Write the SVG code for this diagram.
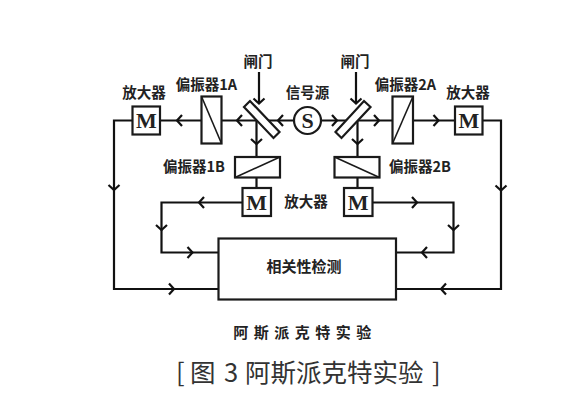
<svg xmlns="http://www.w3.org/2000/svg" width="564" height="416" viewBox="0 0 564 416">
<style>
.s{fill:#fff;stroke:#1a1a1a;stroke-width:2.2}
.d{stroke:#1a1a1a;stroke-width:1.6;fill:none}
.c{fill:none;stroke:#111;stroke-width:2.2}
.a{fill:none;stroke:#111;stroke-width:2.2}
.t{font-family:"Noto Sans CJK SC","Liberation Sans",sans-serif;font-weight:700;font-size:14.5px;fill:#222;text-anchor:middle}
.m{font-family:"Liberation Serif",serif;font-weight:700;font-size:22px;fill:#222;text-anchor:middle}
</style>
<defs>
<path id="ar" class="a" d="M-5-5.5L0 0L-5 5.5"/>
</defs>
<rect width="564" height="416" fill="#fff"/>
<g id="connectors">
<path class="c" d="M132 120.500H114V289H218.500"/>
<path class="c" d="M482.500 120.500H501V289H396"/>
<path class="c" d="M160 120.500H201M221.500 120.500H293.500M321 120.500H392.500M413 120.500H455"/>
<path class="c" d="M242.500 202.500H161.500V252.500H218.500"/>
<path class="c" d="M372 202.500H453.500V252.500H396"/>
<path class="c" d="M256.500 120.500V157M256.500 177V188M357.500 120.500V157M357.500 177V188"/>
<path class="c" d="M259 72V103M356 72V103"/>
<use href="#ar" transform="translate(259 103.500) rotate(90)"/>
<use href="#ar" transform="translate(356 103.500) rotate(90)"/>
<use href="#ar" transform="translate(177 120.500) rotate(180)"/>
<use href="#ar" transform="translate(237 120.500) rotate(180)"/>
<use href="#ar" transform="translate(278 120.500) rotate(180)"/>
<use href="#ar" transform="translate(337 120.500)"/>
<use href="#ar" transform="translate(379 120.500)"/>
<use href="#ar" transform="translate(438.500 120.500)"/>
<use href="#ar" transform="translate(256.500 144) rotate(90)"/>
<use href="#ar" transform="translate(357.500 144) rotate(90)"/>
<use href="#ar" transform="translate(114 190) rotate(90)"/>
<use href="#ar" transform="translate(501 190.500) rotate(90)"/>
<use href="#ar" transform="translate(199 202.500) rotate(180)"/>
<use href="#ar" transform="translate(417 202.500)"/>
<use href="#ar" transform="translate(161.500 230) rotate(90)"/>
<use href="#ar" transform="translate(453.500 230) rotate(90)"/>
<use href="#ar" transform="translate(192.500 252.500)"/>
<use href="#ar" transform="translate(422 252.500) rotate(180)"/>
<use href="#ar" transform="translate(174 289)"/>
<use href="#ar" transform="translate(441 289) rotate(180)"/>
</g>
<g id="mirror1"><polygon class="s" points="250,101 244,107 273.500,138 279.500,132"/></g>
<g id="mirror2"><polygon class="s" points="364,101 370.500,107 341.500,138 335.500,132"/></g>
<g id="source"><circle class="s" cx="307.500" cy="120.500" r="13.500"/><text class="m" x="307.500" y="128">S</text></g>
<g id="pol1a"><rect class="s" x="201.500" y="96.500" width="20" height="47"/><path class="d" d="M201.500 96.500L221.500 143.500"/></g>
<g id="pol2a"><rect class="s" x="392.500" y="96.500" width="20.500" height="47"/><path class="d" d="M392.500 143.500L413 96.500"/></g>
<g id="pol1b"><rect class="s" x="235" y="157" width="45" height="20.500"/><path class="d" d="M235 177.500L280 157"/></g>
<g id="pol2b"><rect class="s" x="334.500" y="157" width="45" height="20.500"/><path class="d" d="M334.500 157L379.500 177.500"/></g>
<g id="amp1a"><rect class="s" x="132.500" y="106.500" width="27.500" height="28"/><text class="m" x="146.300" y="128">M</text></g>
<g id="amp2a"><rect class="s" x="455" y="106.500" width="27.500" height="28"/><text class="m" x="468.800" y="128">M</text></g>
<g id="amp1b"><rect class="s" x="242.500" y="188" width="28.500" height="28"/><text class="m" x="256.700" y="209.500">M</text></g>
<g id="amp2b"><rect class="s" x="344" y="188" width="28.500" height="28"/><text class="m" x="358.200" y="209.500">M</text></g>
<g id="detector"><rect class="s" x="218.500" y="238.500" width="177.500" height="61"/><text class="t" x="304" y="272" style="font-size:15px">相关性检测</text></g>
<g id="labels">
<text class="t" x="258" y="67">闸门</text>
<text class="t" x="355" y="67">闸门</text>
<text class="t" x="206.500" y="90">偏振器1A</text>
<text class="t" x="405.500" y="90">偏振器2A</text>
<text class="t" x="144" y="98">放大器</text>
<text class="t" x="468" y="98">放大器</text>
<text class="t" x="307.500" y="98">信号源</text>
<text class="t" x="194" y="172">偏振器1B</text>
<text class="t" x="420" y="172">偏振器2B</text>
<text class="t" x="306" y="207">放大器</text>
<text class="t" x="305" y="338" style="letter-spacing:5.500px;font-size:15px">阿斯派克特实验</text>
<text y="382" style="font-family:'Noto Sans CJK SC','Liberation Sans',sans-serif;font-size:25.500px;fill:#333"><tspan x="176">[</tspan><tspan x="190">图</tspan><tspan x="224">3</tspan><tspan x="245">阿斯派克特实验</tspan><tspan x="432">]</tspan></text>
</g>
</svg>
